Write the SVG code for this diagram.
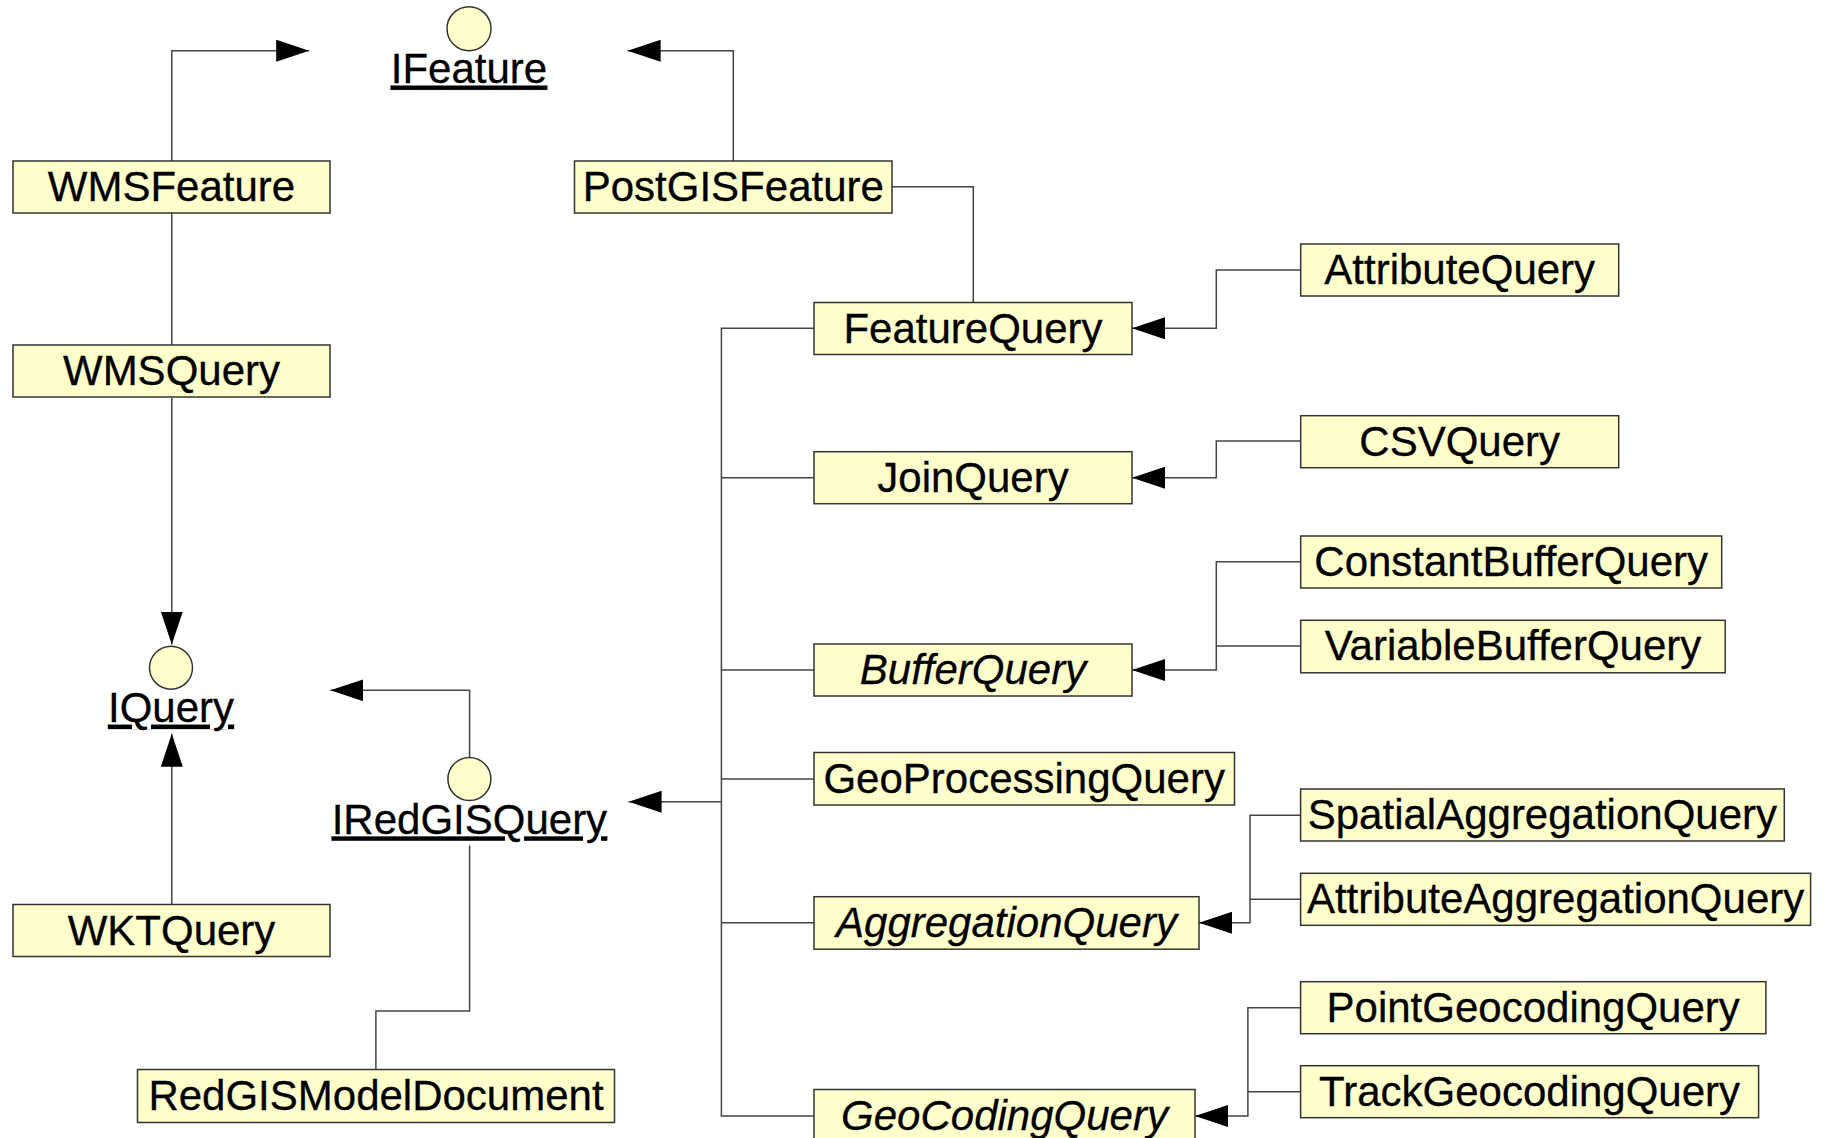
<svg xmlns="http://www.w3.org/2000/svg" width="1829" height="1138" viewBox="0 0 1829 1138">
<defs>
<style>
.box rect{fill:#ffffcc;stroke:#333333;stroke-width:1.5}
.box text,.iface text{font-family:"Liberation Sans",Arial,sans-serif;font-size:42px;fill:#000;text-anchor:middle;stroke:#000;stroke-width:0.3}
.it{font-style:italic}
.iface ellipse{fill:#ffffcc;stroke:#333333;stroke-width:1.5}
.iface text{text-decoration:underline;text-decoration-skip-ink:none}
.conn path{fill:none;stroke:#444444;stroke-width:1.5}
</style>
<marker id="arr" markerUnits="userSpaceOnUse" markerWidth="34" markerHeight="24" refX="33" refY="11" orient="auto">
<path d="M0,0 L33,11 L0,22 z" fill="#000"/>
</marker>
</defs>
<rect width="1829" height="1138" fill="#ffffff"/>

<g id="connectors" class="conn">
<path d="M171.8,161 V50.7 H309.2" marker-end="url(#arr)"/>
<path d="M733.3,161 V50.7 H627.6" marker-end="url(#arr)"/>
<path d="M171.8,213 V345"/>
<path d="M171.8,397.7 V644.6" marker-end="url(#arr)"/>
<path d="M171.8,904.4 V733.8" marker-end="url(#arr)"/>
<path d="M892,186.7 H973.3 V302.3"/>
<path d="M1300.7,270 H1216.3 V328.3 H1132" marker-end="url(#arr)"/>
<path d="M1300.7,441 H1216.3 V477.7 H1132" marker-end="url(#arr)"/>
<path d="M1300.7,561.7 H1216.3 V670 H1132" marker-end="url(#arr)"/>
<path d="M1300.7,646 H1216.3"/>
<path d="M1300.6,815.3 H1250 V922.7 H1199" marker-end="url(#arr)"/>
<path d="M1300.6,899.3 H1250"/>
<path d="M1300.6,1007.7 H1247.9 V1116 H1195" marker-end="url(#arr)"/>
<path d="M1300.6,1091.7 H1247.9"/>
<path d="M814,328.3 H721.4 V1116 H814"/>
<path d="M721.4,477.7 H814"/>
<path d="M721.4,670 H814"/>
<path d="M721.4,779 H814"/>
<path d="M721.4,922.7 H814"/>
<path d="M721.4,801.7 H628.6" marker-end="url(#arr)"/>
<path d="M469.6,758 V690.3 H330.4" marker-end="url(#arr)"/>
<path d="M375.9,1069.5 V1011.1 H469.6 V845.4"/>
</g>

<g id="IFeature" class="iface">
<ellipse cx="469" cy="28.7" rx="22" ry="22"/>
<text x="469" y="82.7">IFeature</text>
</g>
<g id="IQuery" class="iface">
<ellipse cx="171" cy="667.7" rx="21.5" ry="21.5"/>
<text x="171" y="721.8">IQuery</text>
</g>
<g id="IRedGISQuery" class="iface">
<ellipse cx="469.4" cy="779" rx="21.5" ry="21.5"/>
<text x="469.4" y="833.5">IRedGISQuery</text>
</g>

<g id="WMSFeature" class="box"><rect x="13" y="161" width="317" height="52"/><text x="171.5" y="201">WMSFeature</text></g>
<g id="WMSQuery" class="box"><rect x="13" y="345" width="317" height="52"/><text x="171.5" y="385">WMSQuery</text></g>
<g id="WKTQuery" class="box"><rect x="13" y="904.5" width="317" height="52"/><text x="171.5" y="944.5">WKTQuery</text></g>
<g id="PostGISFeature" class="box"><rect x="574.5" y="161" width="317.5" height="52"/><text x="733.3" y="201">PostGISFeature</text></g>
<g id="FeatureQuery" class="box"><rect x="814" y="302.5" width="318" height="52"/><text x="973" y="342.5">FeatureQuery</text></g>
<g id="JoinQuery" class="box"><rect x="814" y="451.7" width="318" height="52"/><text x="973" y="491.7">JoinQuery</text></g>
<g id="BufferQuery" class="box"><rect x="814" y="644" width="318" height="52"/><text class="it" x="973" y="684">BufferQuery</text></g>
<g id="GeoProcessingQuery" class="box"><rect x="814" y="752.5" width="420.5" height="52.5"/><text x="1024.2" y="792.5">GeoProcessingQuery</text></g>
<g id="AggregationQuery" class="box"><rect x="814" y="896.7" width="385" height="52.5"/><text class="it" x="1006.5" y="936.7">AggregationQuery</text></g>
<g id="GeoCodingQuery" class="box"><rect x="814" y="1089.5" width="381" height="52"/><text class="it" x="1004.5" y="1129.5">GeoCodingQuery</text></g>
<g id="AttributeQuery" class="box"><rect x="1300.7" y="244" width="318" height="52"/><text x="1459.7" y="284">AttributeQuery</text></g>
<g id="CSVQuery" class="box"><rect x="1300.7" y="415.7" width="318" height="52"/><text x="1459.7" y="455.7">CSVQuery</text></g>
<g id="ConstantBufferQuery" class="box"><rect x="1300.7" y="536" width="421" height="52"/><text x="1511.2" y="576">ConstantBufferQuery</text></g>
<g id="VariableBufferQuery" class="box"><rect x="1300.7" y="620.3" width="424.5" height="52.5"/><text x="1513" y="660.3">VariableBufferQuery</text></g>
<g id="SpatialAggregationQuery" class="box"><rect x="1300.6" y="789" width="483.7" height="52"/><text x="1542.4" y="829">SpatialAggregationQuery</text></g>
<g id="AttributeAggregationQuery" class="box"><rect x="1300.6" y="873.3" width="510" height="52"/><text x="1555.6" y="913.3">AttributeAggregationQuery</text></g>
<g id="PointGeocodingQuery" class="box"><rect x="1300.6" y="981.7" width="465.3" height="52"/><text x="1533.2" y="1021.7">PointGeocodingQuery</text></g>
<g id="TrackGeocodingQuery" class="box"><rect x="1300.6" y="1065.7" width="458" height="52"/><text x="1529.6" y="1105.7">TrackGeocodingQuery</text></g>
<g id="RedGISModelDocument" class="box"><rect x="137.5" y="1069.5" width="477" height="53"/><text x="376" y="1110">RedGISModelDocument</text></g>
</svg>
